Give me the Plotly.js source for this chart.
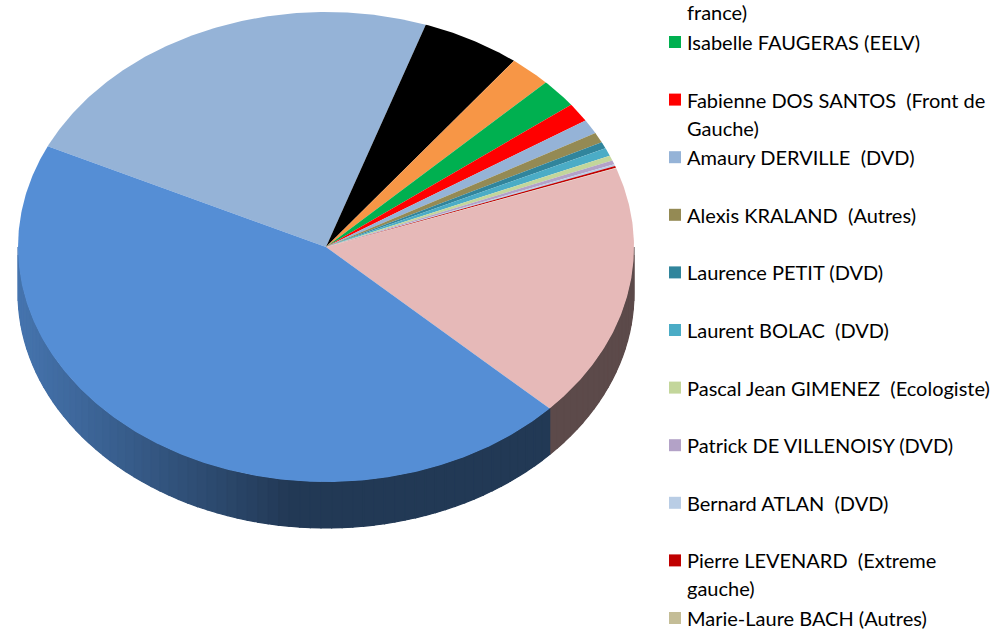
<!DOCTYPE html>
<html>
<head>
<meta charset="utf-8">
<script src="https://cdn.plot.ly/plotly-3.0.1.min.js"></script>
<style>
html,body{margin:0;padding:0;background:#ffffff;}
#chart{width:997px;height:629px;}
</style>
</head>
<body>
<div id="chart"></div>
<script>
// ---- DATA (slices in clockwise order, shares in %) ----
const candidates = [
  "Candidat 1",
  "Candidat 2",
  "…<br>france)",
  "Isabelle FAUGERAS (EELV)",
  "Fabienne DOS SANTOS  (Front de<br>Gauche)",
  "Amaury DERVILLE  (DVD)",
  "Alexis KRALAND  (Autres)",
  "Laurence PETIT (DVD)",
  "Laurent BOLAC  (DVD)",
  "Pascal Jean GIMENEZ  (Ecologiste)",
  "Patrick DE VILLENOISY (DVD)",
  "Bernard ATLAN  (DVD)",
  "Pierre LEVENARD  (Extreme<br>gauche)",
  "Marie-Laure BACH (Autres)",
  "Candidat 3",
  "Candidat 4"
];
const shares = [23.2, 5.2, 2.2, 2.0, 1.3, 1.0, 0.7, 0.45, 0.55, 0.35, 0.28, 0.12, 0.12, 0.05, 17.5, 45.0];
const colors = [
  "#95B3D7", "#000000", "#F79646", "#00B050", "#FF0000", "#95B3D7",
  "#948A54", "#31859C", "#4BACC6", "#C3D69B", "#B3A2C7", "#B9CDE5",
  "#C00000", "#C4BD97", "#E6B9B8", "#558ED5"
];
// visible legend entries (indices into candidates)
const legendFirst = 2, legendLast = 13;

// ---- GEOMETRY / STYLE ----
const W = 997, H = 629;
const cx = 326, cy = 247, rx = 308, ry = 235, depth = 46;
const startAngle = 154.6; // degrees, slices go clockwise
const total = shares.reduce((a, b) => a + b, 0);

function px(t) { return cx + rx * Math.cos(t * Math.PI / 180); }
function py(t) { return cy - ry * Math.sin(t * Math.PI / 180); }
function hexToRgb(h) { return [parseInt(h.substr(1,2),16), parseInt(h.substr(3,2),16), parseInt(h.substr(5,2),16)]; }
function shade(h, f) { const c = hexToRgb(h); return "rgb(" + c.map(v => Math.round(v * f)).join(",") + ")"; }
function shadeAt(x) { return 0.4 + 0.42 * Math.min(1, Math.max(0, (290 - x) / 272)); }

const traces = [];
const ranges = [];
let cum = 0;
shares.forEach((s) => {
  const hi = startAngle - cum / total * 360;
  cum += s;
  const lo = startAngle - cum / total * 360;
  ranges.push([lo, hi]);
});

function wallPoly(ta, tb, m) {
  const xs = [], ys = [];
  for (let j = 0; j <= m; j++) { const t = ta + (tb - ta) * j / m; xs.push(px(t)); ys.push(py(t)); }
  for (let j = m; j >= 0; j--) { const t = ta + (tb - ta) * j / m; xs.push(px(t)); ys.push(py(t) + depth); }
  xs.push(xs[0]); ys.push(ys[0]);
  return [xs, ys];
}

// side walls (front half: sin t < 0)
ranges.forEach(([lo, hi], i) => {
  [-360, 0, 360].forEach(off => {
    const a = Math.max(lo, -180 + off), b = Math.min(hi, 0 + off);
    if (b <= a) return;
    // base wall in a single tone (hides seams between strips)
    const [bx, by] = wallPoly(a, b, Math.max(4, Math.ceil(b - a)));
    const bcol = shade(colors[i], shadeAt(px((a + b) / 2)));
    traces.push({type: "scatter", mode: "lines", x: bx, y: by, fill: "toself",
      fillcolor: bcol, line: {color: bcol, width: 0}, hoverinfo: "skip", showlegend: false});
    const n = Math.max(1, Math.ceil((b - a) / 2));
    for (let k = 0; k < n; k++) {
      const ta = a + (b - a) * k / n, tb = a + (b - a) * (k + 1) / n;
      const [xs, ys] = wallPoly(ta, tb, 4);
      const col = shade(colors[i], shadeAt(px((ta + tb) / 2)));
      traces.push({type: "scatter", mode: "lines", x: xs, y: ys, fill: "toself",
        fillcolor: col, line: {color: col, width: 1.2}, hoverinfo: "skip", showlegend: false});
    }
  });
});

// top faces
ranges.forEach(([lo, hi], i) => {
  const xs = [cx], ys = [cy];
  const n = Math.max(2, Math.ceil((hi - lo) / 0.5));
  for (let j = 0; j <= n; j++) { const t = hi - (hi - lo) * j / n; xs.push(px(t)); ys.push(py(t)); }
  xs.push(cx); ys.push(cy);
  traces.push({type: "scatter", mode: "lines", x: xs, y: ys, fill: "toself",
    fillcolor: colors[i], line: {color: colors[i], width: 0}, name: candidates[i].replace(/<br>/g, " "),
    hoverinfo: "name", showlegend: false});
});

// legend (manual, to mimic the cropped spreadsheet legend)
const legX = 669, legTextX = 685, legY0 = 42, legStep = 57.6, lineGap = 28, sq = 12;
const shapes = [], annotations = [];
for (let i = legendFirst; i <= legendLast; i++) {
  const k = i - legendFirst - 1;
  const y = legY0 + legStep * k;
  const lines = candidates[i].split("<br>");
  if (y - sq / 2 >= 0) {
    shapes.push({type: "rect", xref: "x", yref: "y", x0: legX, x1: legX + sq, y0: y - sq / 2, y1: y + sq / 2,
      fillcolor: colors[i], line: {width: 0}});
  }
  lines.forEach((ln, j) => {
    const yy = y + j * lineGap;
    if (yy < 0) return;
    annotations.push({xref: "x", yref: "y", x: legTextX, y: yy, xanchor: "left", yanchor: "middle",
      text: ln, showarrow: false, font: {family: "Lato, Carlito, Calibri, sans-serif", size: 20, color: "#000000"}});
  });
}

const layout = {
  width: W, height: H,
  margin: {l: 0, r: 0, t: 0, b: 0, pad: 0},
  paper_bgcolor: "#ffffff", plot_bgcolor: "#ffffff",
  xaxis: {range: [0, W], visible: false, fixedrange: true},
  yaxis: {range: [H, 0], visible: false, fixedrange: true},
  showlegend: false,
  shapes: shapes, annotations: annotations,
  hovermode: false
};
Plotly.newPlot("chart", traces, layout, {displayModeBar: false, staticPlot: true});
</script>
</body>
</html>
